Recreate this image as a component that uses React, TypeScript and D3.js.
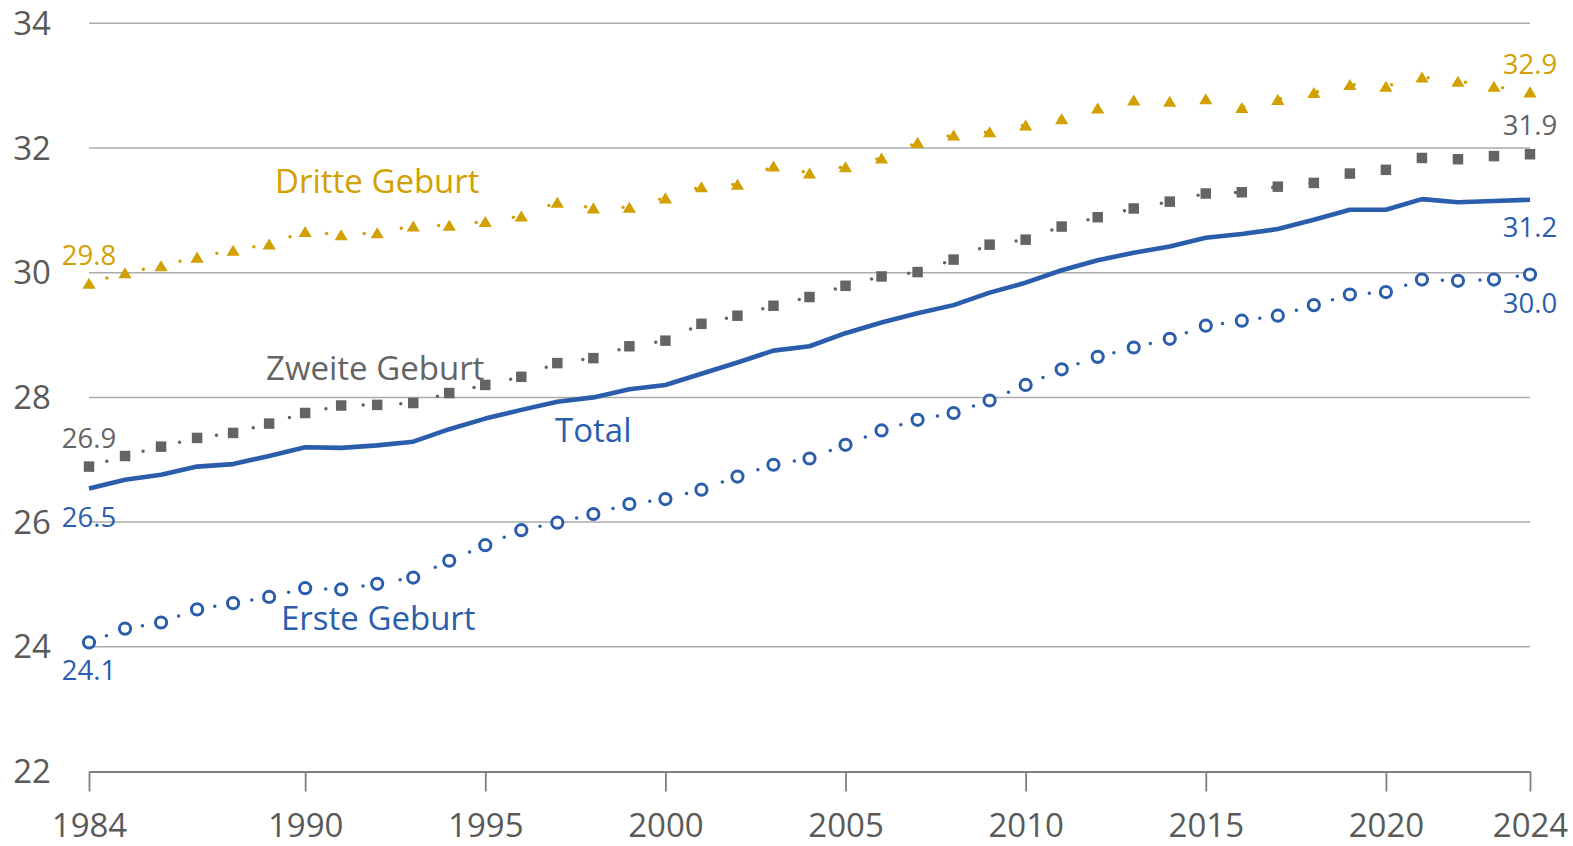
import React, { useEffect, useRef } from 'react';
import * as d3 from 'd3';

// categories
const years = [
  1984, 1985, 1986, 1987, 1988, 1989, 1990, 1991, 1992, 1993, 1994, 1995, 1996,
  1997, 1998, 1999, 2000, 2001, 2002, 2003, 2004, 2005, 2006, 2007, 2008, 2009,
  2010, 2011, 2012, 2013, 2014, 2015, 2016, 2017, 2018, 2019, 2020, 2021, 2022,
  2023, 2024,
];

// series values (Durchschnittsalter der Mutter)
const total = [
  26.54, 26.68, 26.76, 26.89, 26.93, 27.06, 27.2, 27.19, 27.23, 27.29, 27.49, 27.66, 27.8,
  27.93, 28.0, 28.13, 28.2, 28.38, 28.56, 28.75, 28.82, 29.03, 29.2, 29.35, 29.48, 29.68,
  29.84, 30.04, 30.2, 30.32, 30.42, 30.56, 30.62, 30.7, 30.85, 31.01, 31.01, 31.18, 31.13,
  31.15, 31.17,
];
const ersteGeburt = [
  24.07, 24.29, 24.39, 24.6, 24.7, 24.8, 24.94, 24.92, 25.01, 25.11, 25.38, 25.63, 25.87,
  25.99, 26.13, 26.29, 26.37, 26.52, 26.73, 26.92, 27.02, 27.24, 27.47, 27.64, 27.75, 27.95,
  28.2, 28.45, 28.65, 28.8, 28.94, 29.15, 29.23, 29.31, 29.48, 29.65, 29.69, 29.89, 29.87,
  29.89, 29.97,
];
const zweiteGeburt = [
  26.89, 27.06, 27.21, 27.35, 27.43, 27.58, 27.75, 27.87, 27.88, 27.91, 28.07, 28.2, 28.33,
  28.55, 28.63, 28.82, 28.91, 29.18, 29.31, 29.47, 29.61, 29.79, 29.94, 30.01, 30.21, 30.45,
  30.53, 30.74, 30.89, 31.03, 31.14, 31.27, 31.29, 31.38, 31.44, 31.59, 31.65, 31.84, 31.82,
  31.87, 31.9,
];
const dritteGeburt = [
  29.83, 30.0, 30.11, 30.25, 30.36, 30.46, 30.66, 30.61, 30.64, 30.75, 30.76, 30.82, 30.91,
  31.13, 31.04, 31.05, 31.2, 31.38, 31.42, 31.71, 31.6, 31.7, 31.84, 32.09, 32.21, 32.26,
  32.37, 32.47, 32.64, 32.77, 32.75, 32.79, 32.65, 32.78, 32.89, 33.02, 32.99, 33.14, 33.07,
  32.99, 32.9,
];

// tick labels
const yTicks = [22, 24, 26, 28, 30, 32, 34];
const xTicks = [1984, 1990, 1995, 2000, 2005, 2010, 2015, 2020, 2024];

const BLUE = '#2B5DAD';
const GOLD = '#D2A000';
const GREY = '#646464';
const AXIS_TEXT = '#595959';
const FONT = '"Open Sans", "Noto Sans", sans-serif';

// triangle centred on its bounding box (like the Excel marker)
const triangle = {
  draw(ctx: any, size: number) {
    const w = Math.sqrt(size);
    ctx.moveTo(0, -w * 0.46);
    ctx.lineTo(w * 0.55, w * 0.46);
    ctx.lineTo(-w * 0.55, w * 0.46);
    ctx.closePath();
  },
};

function App() {
  const ref = useRef<SVGSVGElement>(null);

  useEffect(() => {
    document.body.style.margin = '0';
    const svg = d3.select(ref.current);
    svg.selectAll('*').remove();

    const w = 1573,
      h = 846;
    svg.attr('width', w).attr('height', h);

    const x = d3.scaleLinear().domain([1984, 2024]).range([89, 1530]);
    const y = d3.scaleLinear().domain([22, 34]).range([771.5, 23.3]);

    // gridlines
    svg
      .append('g')
      .selectAll('line')
      .data(yTicks.filter((d) => d > 22))
      .enter()
      .append('line')
      .attr('x1', x(1984))
      .attr('x2', x(2024))
      .attr('y1', (d) => y(d))
      .attr('y2', (d) => y(d))
      .attr('stroke', '#ababab')
      .attr('stroke-width', 1.5);

    // y labels
    svg
      .append('g')
      .selectAll('text')
      .data(yTicks)
      .enter()
      .append('text')
      .attr('x', 51)
      .attr('y', (d) => y(d))
      .attr('dy', '0.35em')
      .attr('text-anchor', 'end')
      .attr('font-family', FONT)
      .attr('font-size', 33)
      .attr('fill', AXIS_TEXT)
      .text((d) => d);

    // x axis
    const xAxis = svg
      .append('g')
      .attr('transform', `translate(0,${y(22)})`)
      .call(
        d3
          .axisBottom(x)
          .tickValues(xTicks)
          .tickFormat((d) => String(d))
          .tickSize(20)
          .tickSizeOuter(0)
          .tickPadding(22)
      );
    xAxis.select('.domain').attr('stroke', '#7f7f7f').attr('stroke-width', 1.8);
    xAxis.selectAll('.tick line').attr('stroke', '#7f7f7f').attr('stroke-width', 1.8);
    xAxis
      .selectAll('.tick text')
      .attr('font-family', FONT)
      .attr('font-size', 33)
      .attr('fill', AXIS_TEXT);

    const pts = (vals: number[]) => years.map((yr, i) => [yr, vals[i]] as [number, number]);
    const line = d3
      .line<[number, number]>()
      .x((d) => x(d[0]))
      .y((d) => y(d[1]));

    // dotted connectors of the marker series
    const dotted = [
      { vals: ersteGeburt, color: BLUE },
      { vals: zweiteGeburt, color: GREY },
      { vals: dritteGeburt, color: GOLD },
    ];
    dotted.forEach((s) => {
      svg
        .append('path')
        .attr('d', line(pts(s.vals)))
        .attr('fill', 'none')
        .attr('stroke', s.color)
        .attr('stroke-width', 3.5)
        .attr('stroke-linecap', 'round')
        .attr('stroke-dasharray', '0 37.6')
        .attr('stroke-dashoffset', -18.6);
    });

    // markers
    svg
      .append('g')
      .selectAll('circle')
      .data(pts(ersteGeburt))
      .enter()
      .append('circle')
      .attr('cx', (d) => x(d[0]))
      .attr('cy', (d) => y(d[1]))
      .attr('r', 5.6)
      .attr('fill', '#fff')
      .attr('stroke', BLUE)
      .attr('stroke-width', 3);

    const square = d3.symbol().type(d3.symbolSquare).size(110);
    svg
      .append('g')
      .selectAll('path')
      .data(pts(zweiteGeburt))
      .enter()
      .append('path')
      .attr('d', square() as string)
      .attr('transform', (d) => `translate(${x(d[0])},${y(d[1])})`)
      .attr('fill', GREY);

    const tri = d3.symbol().type(triangle as any).size(144);
    svg
      .append('g')
      .selectAll('path')
      .data(pts(dritteGeburt))
      .enter()
      .append('path')
      .attr('d', tri() as string)
      .attr('transform', (d) => `translate(${x(d[0])},${y(d[1])})`)
      .attr('fill', GOLD);

    // total line
    svg
      .append('path')
      .attr('d', line(pts(total)))
      .attr('fill', 'none')
      .attr('stroke', BLUE)
      .attr('stroke-width', 4.6)
      .attr('stroke-linejoin', 'round');

    // series names
    const names = [
      { text: 'Dritte Geburt', x: 275, y: 193, color: GOLD },
      { text: 'Zweite Geburt', x: 266, y: 380, color: GREY },
      { text: 'Total', x: 555, y: 442, color: BLUE },
      { text: 'Erste Geburt', x: 281, y: 630, color: BLUE },
    ];
    svg
      .append('g')
      .selectAll('text')
      .data(names)
      .enter()
      .append('text')
      .attr('x', (d) => d.x)
      .attr('y', (d) => d.y)
      .attr('font-family', FONT)
      .attr('font-size', 33)
      .attr('fill', (d) => d.color)
      .text((d) => d.text);

    // first / last value labels
    const first = 0,
      last = years.length - 1;
    const valueLabels = [
      { yr: years[first], v: dritteGeburt[first], top: 265, color: GOLD },
      { yr: years[first], v: zweiteGeburt[first], top: 447.5, color: GREY },
      { yr: years[first], v: total[first], top: 526.5, color: BLUE },
      { yr: years[first], v: ersteGeburt[first], top: 680, color: BLUE },
      { yr: years[last], v: dritteGeburt[last], top: 74, color: GOLD },
      { yr: years[last], v: zweiteGeburt[last], top: 135, color: GREY },
      { yr: years[last], v: total[last], top: 236.5, color: BLUE },
      { yr: years[last], v: ersteGeburt[last], top: 313, color: BLUE },
    ];
    svg
      .append('g')
      .selectAll('text')
      .data(valueLabels)
      .enter()
      .append('text')
      .attr('x', (d) => x(d.yr))
      .attr('y', (d) => d.top)
      .attr('text-anchor', 'middle')
      .attr('font-family', FONT)
      .attr('font-size', 27.5)
      .attr('fill', (d) => d.color)
      .text((d) => d.v.toFixed(1));
  }, []);

  return <svg ref={ref} style={{ position: 'absolute', left: 0, top: 0 }}></svg>;
}

export default App;
